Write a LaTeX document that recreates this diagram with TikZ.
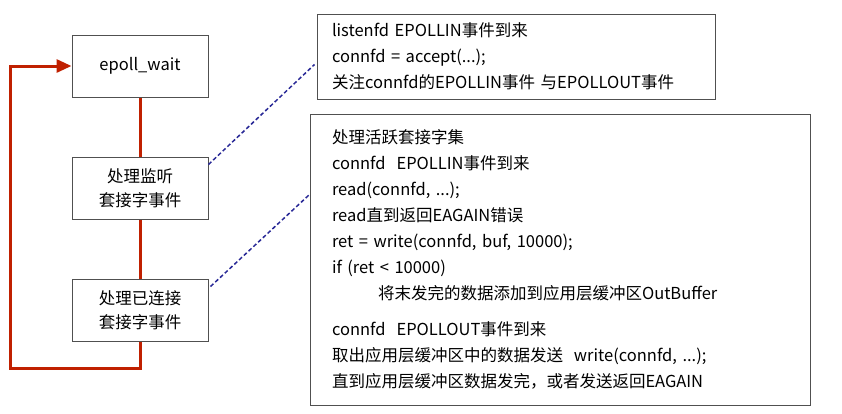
\documentclass[tikz,border=0pt]{standalone}
\usepackage{fontspec}
\setmainfont{Noto Sans CJK SC}
\usetikzlibrary{arrows.meta,positioning,calc}
\definecolor{loopred}{RGB}{192,32,0}
\definecolor{linknavy}{RGB}{40,40,150}
\definecolor{edgegray}{RGB}{80,80,80}
\tikzset{
  stage/.style={draw=edgegray, line width=1pt, minimum width=136pt, minimum height=62pt, align=center, font=\fontsize{16.5}{24}\selectfont},
  note/.style={draw=edgegray, line width=1pt, align=left, font=\fontsize{16.5}{26}\selectfont},
  loop/.style={loopred, line width=3pt},
  back/.style={loopred, line width=3pt, -{Triangle[length=15pt,width=13pt]}},
  link/.style={linknavy, line width=1.5pt, dash pattern=on 4pt off 2.5pt}
}

\begin{document}
\begin{tikzpicture}[x=1pt, y=-1pt]
  \useasboundingbox (0,0) rectangle (842,413);
  \node[stage] (wait) at (140,66) {epoll\_wait};
  \node[stage] (listen) at (140,188) {处理监听\\套接字事件};
  \node[stage] (conn) at (140,310) {处理已连接\\套接字事件};
  \coordinate (corner) at (10,368);

  \node[note, minimum width=398pt, minimum height=85pt, inner xsep=15pt, text width=368pt] (acceptbox) at (516,56.5)
    {listenfd EPOLLIN事件到来\\
     connfd = accept(...);\\
     关注connfd的EPOLLIN事件 与EPOLLOUT事件};
  \node[note, minimum width=500pt, minimum height=291pt, inner xsep=22pt, text width=456pt] (activebox) at (560,259.5)
    {处理活跃套接字集\\
     connfd~~EPOLLIN事件到来\\
     read(connfd, ...);\\
     read直到返回EAGAIN错误\\
     ret = write(connfd, buf, 10000);\\
     if (ret < 10000)\\
     \hspace*{46pt}将末发完的数据添加到应用层缓冲区OutBuffer\\[10pt]
     connfd~~EPOLLOUT事件到来\\
     取出应用层缓冲区中的数据发送~~write(connfd, ...);\\
     直到应用层缓冲区数据发完，或者发送返回EAGAIN};

  \draw[loop] (wait) -- (listen);
  \draw[loop] (listen) -- (conn);
  \draw[back] (conn.south) |- (corner) |- (wait.west);

  \draw[link] ($(listen.north east)+(0,8)$) -- ($(acceptbox.west)+(-2,8)$);
  \draw[link] ($(conn.north east)+(2,8)$) -- ($(activebox.north west)+(0,81)$);
\end{tikzpicture}
\end{document}
